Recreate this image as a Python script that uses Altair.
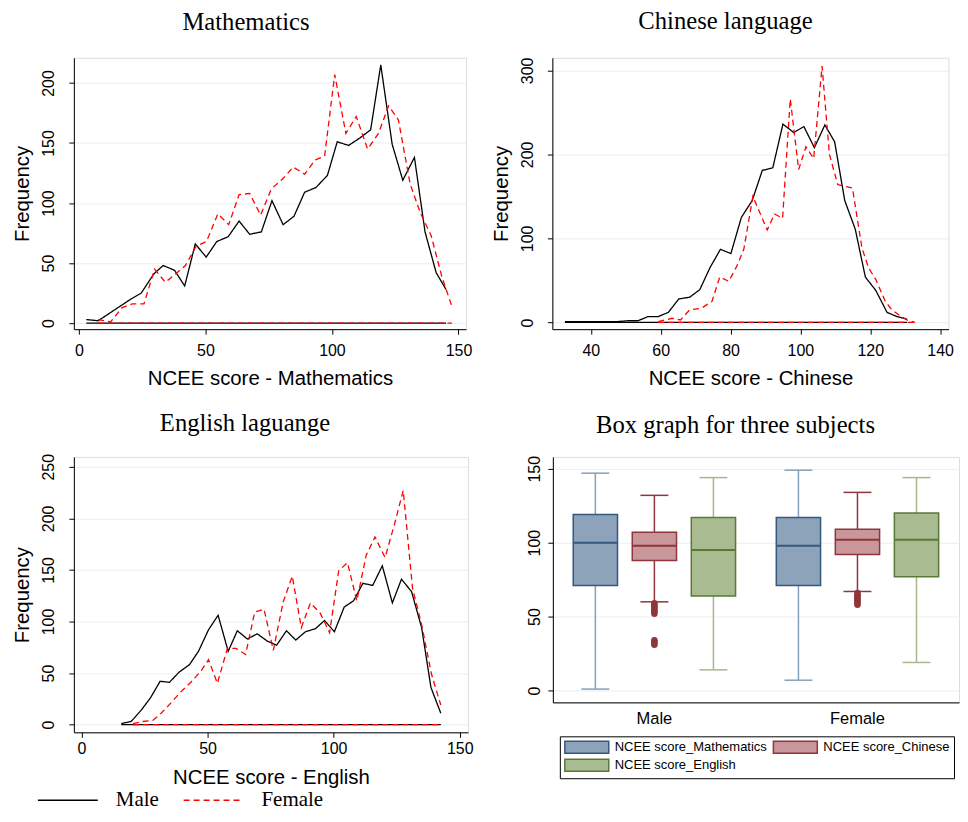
import altair as alt
import pandas as pd

SANS = "Liberation Sans"
SERIF = "Liberation Serif"
SEX = ["Male", "Female"]

# ---------------- frequency polygons ----------------
math_male_x = [2.9, 7.6, 11.9, 16.2, 20.5, 24.6, 29.6, 33.3, 37.8, 41.8, 46.0, 50.3, 54.5, 59.0,
               63.3, 67.5, 72.1, 76.3, 80.7, 85.0, 89.2, 93.7, 98.2, 102.1, 106.6, 110.9, 115.3,
               119.3, 123.8, 128.0, 132.6, 136.8, 141.2, 145.1]
math_male_y = [3, 2, 8, 14, 20, 25, 41, 48, 44, 31, 66, 55, 68, 72, 85, 74, 76, 102, 82, 89, 109,
               113, 123, 151, 148, 154, 161, 215, 149, 119, 138, 76, 42, 28]
math_female_x = [7.6, 12.5, 17.1, 21.1, 25.7, 29.9, 34.2, 38.2, 42.1, 46.3, 50.4, 54.9, 59.2, 63.3,
                 67.5, 71.8, 76.1, 80.5, 84.7, 89.2, 93.4, 97.1, 101.1, 105.5, 109.6, 114.1, 118.4,
                 122.4, 126.3, 130.9, 134.9, 139.2, 143.4, 147.4]
math_female_y = [3, 1, 13, 16, 16, 45, 34, 41, 48, 64, 68, 91, 82, 107, 108, 90, 112, 120, 130, 124,
                 136, 139, 207, 158, 172, 145, 158, 181, 169, 116, 92, 73, 39, 14]

chin_male_x = [32.6, 35.6, 38.6, 41.6, 44.6, 47.6, 50.6, 53.5, 56.4, 59.3, 62.2, 65.2, 68.3, 71.2,
               74.1, 77.1, 80.1, 83.1, 86.2, 89.1, 92.1, 95.0, 98.1, 101.0, 104.0, 107.0, 109.8,
               112.7, 115.7, 118.6, 121.6, 124.8, 127.6, 130.5]
chin_male_y = [1, 1, 1, 1, 1, 1, 2, 2, 7, 7, 12, 28, 30, 39, 65, 87, 82, 125, 145, 181, 184, 236,
               226, 233, 208, 235, 215, 145, 111, 54, 38, 12, 7, 4]
chin_female_x = [59.3, 63.3, 65.7, 68.3, 71.7, 74.7, 76.9, 79.5, 81.8, 83.8, 86.4, 90.5, 92.6, 94.9,
                 97.1, 99.5, 101.6, 103.8, 106.2, 108.3, 110.7, 114.9, 117.6, 119.5, 121.6, 124.3,
                 126.2, 128.5, 130.5, 132.8]
chin_female_y = [1, 5, 3, 15, 17, 25, 54, 49, 67, 87, 150, 110, 129, 124, 266, 182, 209, 195, 305,
                 200, 164, 160, 89, 65, 51, 25, 15, 8, 3, 0]

eng_male_x = [15.8, 19.7, 23.7, 27.4, 31.2, 34.9, 38.8, 42.8, 46.4, 50.4, 54.2, 58.2, 61.8, 65.8,
              69.7, 73.7, 77.4, 81.3, 85.0, 88.8, 92.8, 96.4, 100.3, 104.2, 107.9, 111.6, 115.5,
              119.3, 123.3, 126.9, 130.9, 134.9, 138.6, 142.5]
eng_male_y = [1, 3, 14, 26, 42, 41, 51, 58, 71, 92, 106, 71, 91, 83, 88, 81, 77, 91, 82, 90, 93,
              101, 90, 114, 120, 137, 135, 154, 118, 141, 129, 94, 36, 11]
eng_female_x = [20.4, 24.3, 28.3, 31.6, 35.5, 39.5, 43.4, 47.4, 50.4, 53.9, 57.9, 61.2, 65.1, 68.7,
                72.4, 76.1, 80.0, 83.6, 87.2, 90.8, 94.7, 98.4, 102.0, 105.5, 109.2, 112.9, 116.4,
                120.4, 124.1, 127.6, 131.3, 134.9, 138.8, 142.5]
eng_female_y = [1, 3, 4, 11, 21, 32, 41, 52, 63, 40, 74, 74, 68, 109, 112, 72, 119, 144, 94, 118,
                108, 89, 149, 157, 120, 164, 182, 162, 194, 227, 132, 97, 49, 19]

# ---------------- box plot summaries ----------------
SUBJ = ["NCEE score_Mathematics", "NCEE score_Chinese", "NCEE score_English"]
box_sex = ["Male", "Male", "Male", "Female", "Female", "Female"]
box_subject = SUBJ + SUBJ
box_low = [1, 60, 14, 7, 67, 19]
box_q1 = [71, 88, 64, 71, 92, 77]
box_med = [100, 98, 95, 98, 102, 102]
box_q3 = [119, 107, 117, 117, 109, 120]
box_high = [147, 132, 144, 149, 134, 144]
out_male_chinese = [59, 58, 57, 56, 55, 54, 53, 52, 34, 33, 32, 31]
out_female_chinese = [66, 65, 64, 63, 62, 61, 60, 59, 58]

FILL = ["#8da3ba", "#c9979b", "#a9bb91"]
OUTLINE = ["#34597f", "#90353b", "#587a36"]
WHISK = ["#86a0bb", "#90353b", "#a6b98d"]


def line_df(mx, my, fx, fy):
    rows = []
    for sex, xs, ys in (("Male", mx, my), ("Female", fx, fy)):
        for x, y in zip(xs, ys):
            rows.append({"x": x, "y": y, "sex": sex, "part": sex + "_poly"})
        rows.append({"x": min(xs), "y": 0, "sex": sex, "part": sex + "_base"})
        rows.append({"x": max(xs), "y": 0, "sex": sex, "part": sex + "_base"})
    return pd.DataFrame(rows)


def y_axis(values, title="Frequency", label_pad=12):
    kw = dict(values=values, grid=True, gridColor="#e6eff1", gridWidth=1,
              labelAngle=-90, labelAlign="center", labelBaseline="bottom",
              labelFont=SANS, labelFontSize=16, labelColor="black", labelPadding=label_pad,
              tickColor="black", tickSize=5, domainColor="black",
              labelOverlap=False, labelFlush=False)
    if title:
        kw.update(title=title, titleFont=SANS, titleFontSize=20.4, titleFontWeight="normal",
                  titleColor="black", titlePadding=8)
    else:
        kw.update(title=None)
    return alt.Axis(**kw)


def x_axis(values, title, label_pad, title_pad):
    return alt.Axis(values=values, title=title, grid=False, labelFont=SANS, labelFontSize=16,
                    labelColor="black", labelPadding=label_pad, tickColor="black", tickSize=5,
                    domainColor="black", titleFont=SANS, titleFontSize=20.4,
                    titleFontWeight="normal", titleColor="black", titlePadding=title_pad,
                    labelFlush=False, labelOverlap=False)


def panel_title(text, dx, offset):
    return alt.Title(text, font=SERIF, fontSize=24.7, fontWeight="normal", color="black",
                     offset=offset, anchor="middle", frame="group", dx=dx)


def line_panel(df, title, dx, off, xdom, ydom, xvals, yvals, xtitle, w, h, lp, tp, legend=None):
    return alt.Chart(df, title=panel_title(title, dx, off)).mark_line(strokeWidth=1.3, clip=True).encode(
        x=alt.X("x:Q", scale=alt.Scale(domain=xdom, nice=False, zero=False),
                axis=x_axis(xvals, xtitle, lp, tp)),
        y=alt.Y("y:Q", scale=alt.Scale(domain=ydom, nice=False, zero=False),
                axis=y_axis(yvals)),
        color=alt.Color("sex:N", scale=alt.Scale(domain=SEX, range=["#000000", "#ff0000"]),
                        legend=legend),
        strokeDash=alt.StrokeDash("sex:N", scale=alt.Scale(domain=SEX, range=[[1, 0], [6, 4]]),
                                  legend=legend),
        detail="part:N",
    ).properties(width=w, height=h)


p1 = line_panel(line_df(math_male_x, math_male_y, math_female_x, math_female_y),
                "Mathematics", -24, 23, [-2, 153], [-5, 221], [0, 50, 100, 150],
                [0, 50, 100, 150, 200], "NCEE score - Mathematics", 393, 272, 8, 10)
p2 = line_panel(line_df(chin_male_x, chin_male_y, chin_female_x, chin_female_y),
                "Chinese language", -25, 23, [29, 142.4], [-8, 315], [40, 60, 80, 100, 120, 140],
                [0, 100, 200, 300], "NCEE score - Chinese", 397, 272, 8, 10)
sex_legend = alt.Legend(title=None, orient="none", legendX=-37, legendY=334,
                        direction="horizontal", symbolType="stroke", symbolSize=3600,
                        symbolStrokeWidth=1.5, labelFont=SERIF, labelFontSize=21,
                        labelColor="black", labelOffset=17, columnPadding=23, padding=0,
                        clipHeight=20)
p3 = line_panel(line_df(eng_male_x, eng_male_y, eng_female_x, eng_female_y),
                "English laguange", -26, 18, [-3, 153.3], [-7.5, 259.6], [0, 50, 100, 150],
                [0, 50, 100, 150, 200, 250], "NCEE score - English", 395, 276, 3, 11,
                legend=sex_legend)

# ---------------- box panel ----------------
box_df = pd.DataFrame({"sex": box_sex, "subject": box_subject, "low": box_low, "q1": box_q1,
                       "med": box_med, "q3": box_q3, "high": box_high})
out_df = pd.DataFrame({"sex": ["Male"] * len(out_male_chinese) + ["Female"] * len(out_female_chinese),
                       "subject": [SUBJ[1]] * (len(out_male_chinese) + len(out_female_chinese)),
                       "val": out_male_chinese + out_female_chinese})

xb = alt.X("sex:N", sort=SEX, scale=alt.Scale(paddingInner=0, paddingOuter=0),
           axis=alt.Axis(title=None, labelAngle=0, ticks=False, labelFont=SANS, labelFontSize=16.5,
                         labelColor="black", labelPadding=8, domainColor="black", grid=False))
xo = alt.XOffset("subject:N", sort=SUBJ, scale=alt.Scale(paddingInner=0.25, paddingOuter=0.345))
yscale = alt.Scale(domain=[-8, 158], nice=False, zero=False)
box_legend = alt.Legend(title=None, orient="none", legendX=7, legendY=280, columns=2,
                        direction="horizontal",
                        symbolType="M-1,-1L6.333,-1L6.333,1L-1,1Z", symbolSize=144,
                        symbolStrokeWidth=1.5, labelFont=SANS, labelFontSize=13, labelColor="black",
                        labelOffset=37, columnPadding=3, rowPadding=0, padding=4,
                        strokeColor="black", fillColor="white", labelLimit=300)

base = alt.Chart(box_df)
whisk = base.mark_rule(strokeWidth=1.5).encode(
    x=xb, xOffset=xo,
    y=alt.Y("low:Q", scale=yscale, axis=y_axis([0, 50, 100, 150], title=None, label_pad=5)),
    y2="high:Q",
    color=alt.Color("subject:N", sort=SUBJ, scale=alt.Scale(domain=SUBJ, range=WHISK), legend=None))
boxes = base.mark_bar(strokeWidth=1.5).encode(
    x=xb, xOffset=xo, y=alt.Y("q1:Q", scale=yscale), y2="q3:Q",
    fill=alt.Fill("subject:N", sort=SUBJ, scale=alt.Scale(domain=SUBJ, range=FILL), legend=box_legend),
    stroke=alt.Stroke("subject:N", sort=SUBJ, scale=alt.Scale(domain=SUBJ, range=OUTLINE), legend=box_legend))
med = base.mark_tick(thickness=2, size=44, opacity=1).encode(
    x=xb, xOffset=xo, y=alt.Y("med:Q", scale=yscale),
    color=alt.Color("subject:N", sort=SUBJ, scale=alt.Scale(domain=SUBJ, range=OUTLINE), legend=None))
cap_lo = base.mark_tick(thickness=1.5, size=28, opacity=1).encode(
    x=xb, xOffset=xo, y=alt.Y("low:Q", scale=yscale),
    color=alt.Color("subject:N", sort=SUBJ, scale=alt.Scale(domain=SUBJ, range=WHISK), legend=None))
cap_hi = base.mark_tick(thickness=1.5, size=28, opacity=1).encode(
    x=xb, xOffset=xo, y=alt.Y("high:Q", scale=yscale),
    color=alt.Color("subject:N", sort=SUBJ, scale=alt.Scale(domain=SUBJ, range=WHISK), legend=None))
outl = alt.Chart(out_df).mark_circle(size=42, opacity=1).encode(
    x=xb, xOffset=xo, y=alt.Y("val:Q", scale=yscale),
    color=alt.Color("subject:N", sort=SUBJ, scale=alt.Scale(domain=SUBJ, range=OUTLINE), legend=None))

p4 = alt.layer(whisk, cap_lo, cap_hi, boxes, med, outl,
               title=panel_title("Box graph for three subjects", -20.5, 18)).resolve_scale(
    color="independent").properties(width=407, height=246)

RES = dict(x="independent", y="independent", color="independent", strokeDash="independent",
           fill="independent", stroke="independent")
top = alt.hconcat(p1, p2, spacing=17.5).resolve_scale(**RES)
bottom = alt.hconcat(p3, p4, spacing=52).resolve_scale(**RES)
chart = alt.vconcat(top, bottom, spacing=21).resolve_scale(**RES).properties(
    padding={"left": 4, "top": 0, "right": 0, "bottom": 0}
).configure_view(stroke=None).configure(background="white")

chart.save("out.html", embed_options={"renderer": "svg", "actions": False})
